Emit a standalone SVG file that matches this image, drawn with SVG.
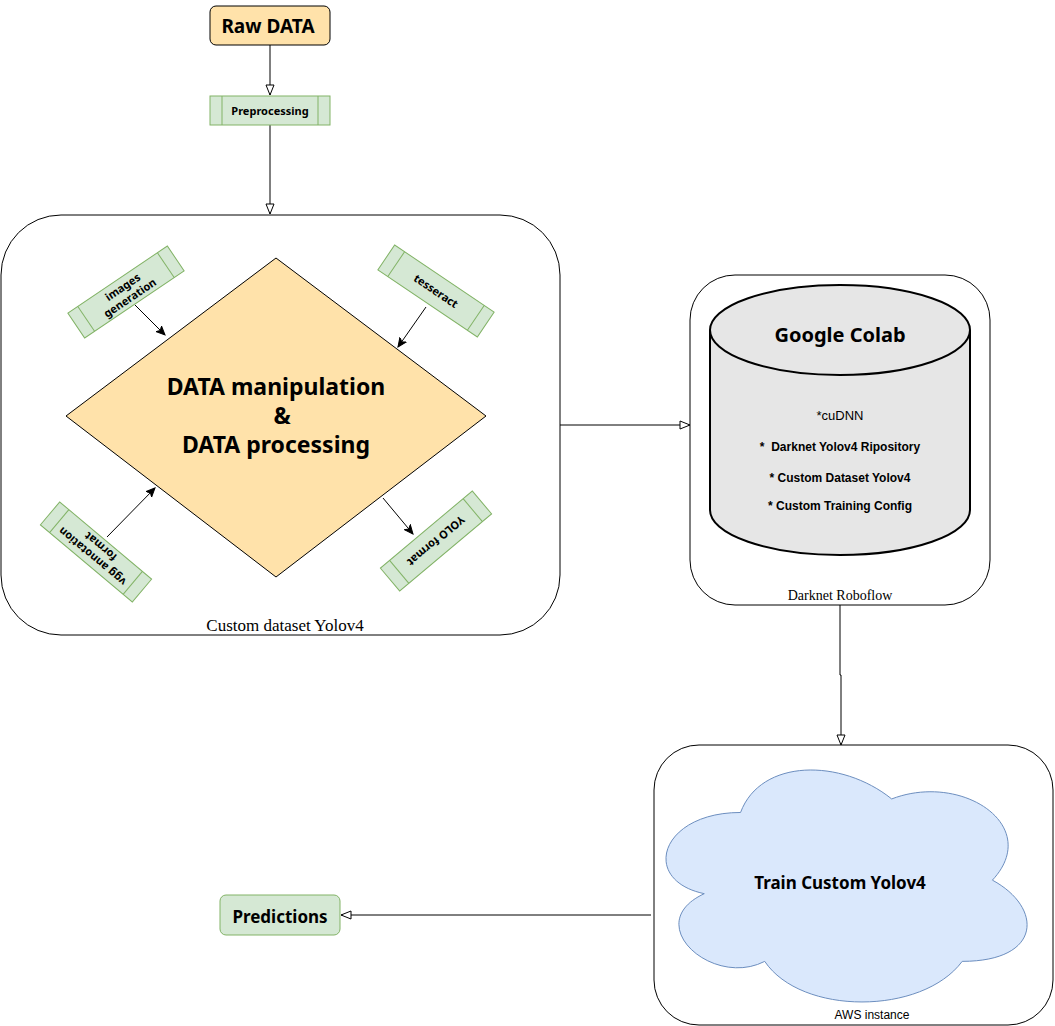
<svg xmlns="http://www.w3.org/2000/svg" width="1055" height="1026" viewBox="0 0 1055 1026">
<style>
.hand{font-family:"Comic Sans MS","Noto Sans","DejaVu Sans",sans-serif;font-weight:bold;fill:#000;text-anchor:middle}
.sans{font-family:"Liberation Sans",Arial,sans-serif;fill:#000;text-anchor:middle}
.serif{font-family:"Liberation Serif","Times New Roman",serif;fill:#000;text-anchor:middle}
.green{fill:#d5e8d4;stroke:#82b366;stroke-width:1}
.peach{fill:#ffe2aa;stroke:#000;stroke-width:1}
.cont{fill:#fff;stroke:#000;stroke-width:1}
.conn{fill:none;stroke:#000;stroke-width:1}
</style>
<defs>
<marker id="hollow" viewBox="0 0 12 10" refX="11" refY="5" markerWidth="12" markerHeight="10" markerUnits="userSpaceOnUse" orient="auto">
<path d="M1,1 L11,5 L1,9 Z" fill="#fff" stroke="#000" stroke-width="1"/>
</marker>
<marker id="solid" viewBox="0 0 10 10" refX="9" refY="5" markerWidth="10" markerHeight="10" markerUnits="userSpaceOnUse" orient="auto">
<path d="M0,1 L9,5 L0,9 L2.5,5 Z" fill="#000" stroke="#000" stroke-width="1"/>
</marker>
</defs>
<rect width="1055" height="1026" fill="#fff"/>

<g id="container-custom">
<rect class="cont" x="1" y="215" width="559" height="420" rx="60" ry="60"/>
<text class="serif" x="285" y="631" font-size="17">Custom dataset Yolov4</text>
</g>
<g id="container-darknet">
<rect class="cont" x="690" y="275" width="300" height="330" rx="45" ry="45"/>
<text class="serif" x="840" y="600" font-size="14">Darknet Roboflow</text>
</g>
<g id="container-aws">
<rect class="cont" x="654" y="745" width="399" height="280" rx="45" ry="45"/>
<text class="sans" x="872" y="1019" font-size="12">AWS instance</text>
</g>

<g id="connectors">
<path class="conn" d="M270,45 L270,95" marker-end="url(#hollow)"/>
<path class="conn" d="M270,125 L270,214" marker-end="url(#hollow)"/>
<path class="conn" d="M560,425 L690,425" marker-end="url(#hollow)"/>
<path class="conn" d="M840,605 L840,675 L841,675 L841,745" marker-end="url(#hollow)"/>
<path class="conn" d="M651,915 L341,915" marker-end="url(#hollow)"/>
<path class="conn" d="M135,305 L165,335" marker-end="url(#solid)"/>
<path class="conn" d="M426,307 L398,347" marker-end="url(#solid)"/>
<path class="conn" d="M107,537 L155,488" marker-end="url(#solid)"/>
<path class="conn" d="M383,498 L413,534" marker-end="url(#solid)"/>
</g>

<g id="raw-data">
<rect class="peach" x="210" y="6" width="120" height="39" rx="6" ry="6"/>
<text class="hand" x="268" y="33" font-size="19">Raw DATA</text>
</g>

<g id="preprocessing">
<rect class="green" x="210" y="96" width="120" height="29"/>
<line x1="222" y1="96" x2="222" y2="125" stroke="#82b366"/>
<line x1="318" y1="96" x2="318" y2="125" stroke="#82b366"/>
<text class="hand" x="270" y="115" font-size="11">Preprocessing</text>
</g>

<g id="diamond">
<polygon class="peach" points="276,258 486,416 276,577 66,416"/>
<text class="hand" x="276" y="395" font-size="23">DATA manipulation</text>
<text class="hand" x="282" y="424" font-size="23">&amp;</text>
<text class="hand" x="276" y="453" font-size="23">DATA processing</text>
</g>

<g id="images-generation" transform="translate(126,292) rotate(-34)">
<rect class="green" x="-60" y="-15" width="120" height="30"/>
<line x1="-48" y1="-15" x2="-48" y2="15" stroke="#82b366"/>
<line x1="48" y1="-15" x2="48" y2="15" stroke="#82b366"/>
<text class="hand" x="0" y="-2" font-size="11">images</text>
<text class="hand" x="0" y="11" font-size="11">generation</text>
</g>

<g id="tesseract" transform="translate(436,291) rotate(34)">
<rect class="green" x="-60" y="-15" width="120" height="30"/>
<line x1="-48" y1="-15" x2="-48" y2="15" stroke="#82b366"/>
<line x1="48" y1="-15" x2="48" y2="15" stroke="#82b366"/>
<text class="hand" x="0" y="4" font-size="11">tesseract</text>
</g>

<g id="vgg-annotation" transform="translate(96,552) rotate(220)">
<rect class="green" x="-60" y="-15" width="120" height="30"/>
<line x1="-48" y1="-15" x2="-48" y2="15" stroke="#82b366"/>
<line x1="48" y1="-15" x2="48" y2="15" stroke="#82b366"/>
<text class="hand" x="0" y="-2" font-size="11">vgg annotation</text>
<text class="hand" x="0" y="11" font-size="11">format</text>
</g>

<g id="yolo-format" transform="translate(436,541) rotate(140)">
<rect class="green" x="-60" y="-15" width="120" height="30"/>
<line x1="-48" y1="-15" x2="-48" y2="15" stroke="#82b366"/>
<line x1="48" y1="-15" x2="48" y2="15" stroke="#82b366"/>
<text class="hand" x="0" y="4" font-size="11">YOLO format</text>
</g>

<g id="google-colab">
<path d="M710,330 L710,510 A130,45 0 0 0 970,510 L970,330" fill="#e6e6e6" stroke="#000" stroke-width="2"/>
<ellipse cx="840" cy="330" rx="130" ry="45" fill="#e6e6e6" stroke="#000" stroke-width="2"/>
<text class="hand" x="840" y="342" font-size="20">Google Colab</text>
<text class="sans" x="840" y="420" font-size="13">*cuDNN</text>
<text class="sans" x="840" y="451" font-size="12" font-weight="bold" xml:space="preserve">*  Darknet Yolov4 Ripository</text>
<text class="sans" x="840" y="482" font-size="12" font-weight="bold">* Custom Dataset Yolov4</text>
<text class="sans" x="840" y="510" font-size="12" font-weight="bold">* Custom Training Config</text>
</g>

<g id="train-cloud">
<path d="M740.55,812.475 C659.95,812.475 639.8,880.15 704.28,893.685 C639.8,923.46 712.34,988.43 764.73,961.36 C801,1015.5 921.9,1015.5 962.2,961.36 C1042.8,961.36 1042.8,907.22 992.4,880.15 C1042.8,826.01 962.2,771.87 891.675,798.94 C841.3,758.335 760.7,758.335 740.55,812.475 Z" fill="#dae8fc" stroke="#6c8ebf" stroke-width="1"/>
<text class="hand" x="840" y="889" font-size="17">Train Custom Yolov4</text>
</g>

<g id="predictions">
<rect class="green" x="220" y="895" width="120" height="40" rx="6" ry="6"/>
<text class="hand" x="280" y="923" font-size="17">Predictions</text>
</g>
</svg>
